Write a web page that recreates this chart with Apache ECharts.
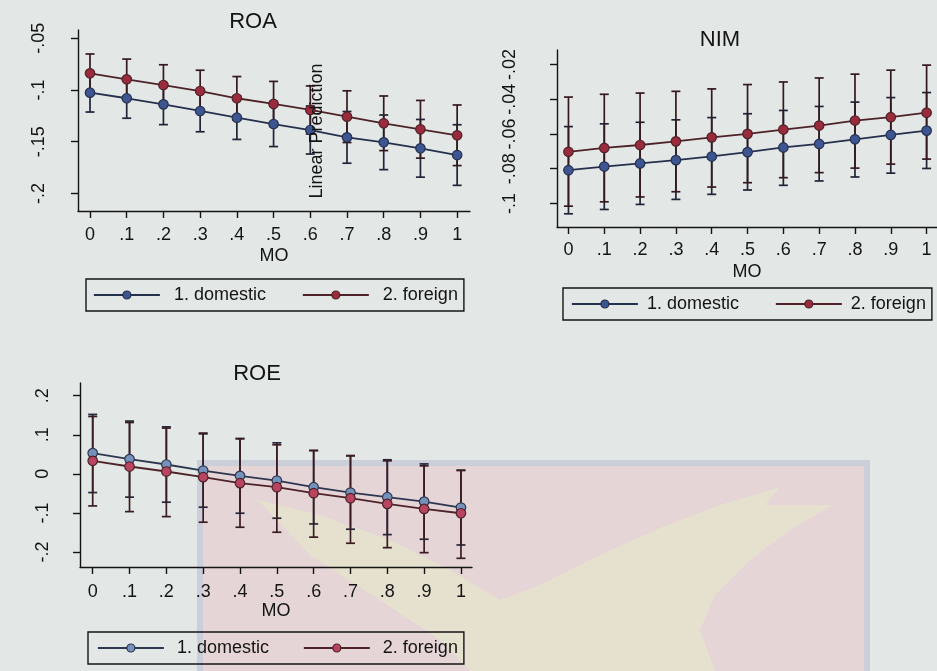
<!DOCTYPE html>
<html>
<head>
<meta charset="utf-8">
<title>Predictive margins by ownership</title>
<script src="https://cdn.jsdelivr.net/npm/echarts@6/dist/echarts.min.js"></script>
<style>
  html, body { margin: 0; padding: 0; background: #e3e7e6; }
  #chart { width: 937px; height: 671px; }
</style>
</head>
<body>
<div id="chart"></div>
<script>
// ---- data ---------------------------------------------------------------
const mo = [0, 0.1, 0.2, 0.3, 0.4, 0.5, 0.6, 0.7, 0.8, 0.9, 1];
const xTicks = [0, 0.1, 0.2, 0.3, 0.4, 0.5, 0.6, 0.7, 0.8, 0.9, 1];
const groupNames = ['1. domestic', '2. foreign'];
const panelTitles = ['ROA', 'NIM', 'ROE'];
const xAxisTitle = 'MO';
const yAxisTitle = 'Linear Prediction';

// ROA
const roaYTicks = [-0.2, -0.15, -0.1, -0.05];
const roaDom   = [-0.1026, -0.108, -0.1139, -0.1203, -0.1268, -0.1329, -0.1387, -0.1458, -0.1506, -0.1564, -0.1629];
const roaDomLo = [-0.1213, -0.1273, -0.1335, -0.1404, -0.1478, -0.1547, -0.1619, -0.1708, -0.177, -0.1843, -0.1922];
const roaDomHi = [-0.0839, -0.0887, -0.0943, -0.1002, -0.1058, -0.1111, -0.1155, -0.1208, -0.1242, -0.1285, -0.1336];
const roaFor   = [-0.0839, -0.0897, -0.0952, -0.101, -0.108, -0.1135, -0.1193, -0.1258, -0.1322, -0.138, -0.1438];
const roaForLo = [-0.1026, -0.1093, -0.1148, -0.1211, -0.129, -0.1353, -0.1425, -0.1508, -0.1586, -0.1659, -0.1731];
const roaForHi = [-0.0652, -0.0701, -0.0756, -0.0809, -0.087, -0.0917, -0.0961, -0.1008, -0.1058, -0.1101, -0.1145];

// NIM
const nimYTicks = [-0.1, -0.08, -0.06, -0.04, -0.02];
const nimDom   = [-0.0809, -0.0788, -0.077, -0.0751, -0.073, -0.0705, -0.0678, -0.0658, -0.0631, -0.0606, -0.0581];
const nimDomLo = [-0.106, -0.1035, -0.1006, -0.0977, -0.0948, -0.0923, -0.0896, -0.0871, -0.0848, -0.0826, -0.0799];
const nimDomHi = [-0.0558, -0.0542, -0.0533, -0.0519, -0.0506, -0.0484, -0.0465, -0.0442, -0.0417, -0.0391, -0.0362];
const nimFor   = [-0.0703, -0.0681, -0.0664, -0.0643, -0.062, -0.06, -0.0575, -0.0552, -0.0523, -0.0504, -0.0478];
const nimForLo = [-0.1016, -0.0991, -0.0963, -0.0933, -0.0906, -0.0881, -0.0852, -0.0823, -0.0797, -0.0774, -0.0745];
const nimForHi = [-0.0388, -0.0372, -0.0365, -0.0355, -0.0341, -0.0316, -0.0301, -0.0278, -0.0256, -0.0233, -0.0204];

// ROE
const roeYTicks = [-0.2, -0.1, 0, 0.1, 0.2];
const roeDom   = [0.0531, 0.0377, 0.0239, 0.0085, -0.0051, -0.0171, -0.0342, -0.0479, -0.0598, -0.071, -0.0863];
const roeDomLo = [-0.0479, -0.0597, -0.0726, -0.0854, -0.1008, -0.1136, -0.1282, -0.1418, -0.1556, -0.1674, -0.1821];
const roeDomHi = [0.1521, 0.1351, 0.1204, 0.1024, 0.0906, 0.0794, 0.0598, 0.046, 0.036, 0.0254, 0.0095];
const roeFor   = [0.0333, 0.0188, 0.006, -0.0085, -0.0239, -0.0342, -0.0496, -0.0624, -0.0769, -0.0897, -0.1009];
const roeForLo = [-0.0821, -0.0967, -0.1095, -0.1238, -0.1367, -0.1495, -0.1621, -0.1777, -0.189, -0.2018, -0.2162];
const roeForHi = [0.1469, 0.1315, 0.1172, 0.1044, 0.0897, 0.0744, 0.0597, 0.0469, 0.0333, 0.0205, 0.0085];

// ---- styling ------------------------------------------------------------
const FONT = "'Liberation Sans', Arial, Helvetica, sans-serif";
const INK = '#141414';

// Stata-like number format: drop the leading zero (-.05, .1, 0, 1)
function stataNum(v) {
  const s = String(+Number(v).toFixed(4));
  return s.replace(/^(-?)0\./, '$1.');
}

// panel layout and colours
const panels = [
  {
    title: panelTitles[0], titleX: 248, titleY: 6,
    grid: { left: 78, top: 30, width: 392, height: 181 },
    xMin: -0.0327, xMax: 1.035, yMin: -0.217, yMax: -0.042,
    yTicks: roaYTicks, yLabelMargin: 30, xLabelMargin: 15, nameGap: 36,
    series: [[roaDom, roaDomLo, roaDomHi], [roaFor, roaForLo, roaForHi]],
    marker: ['#3d5590', '#9a2b3d'],
    line: ['#25304d', '#4e2229'],
    ci: ['#1f2436', '#35191e'],
    legend: { left: 86, top: 279, gap: 36, padL: 7, padR: 6, textPad: 9 }
  },
  {
    title: panelTitles[1], titleX: 715, titleY: 24,
    grid: { left: 557, top: 50, width: 380, height: 177 },
    xMin: -0.032, xMax: 1.029, yMin: -0.1136, yMax: -0.0117,
    yTicks: nimYTicks, yLabelMargin: 38, xLabelMargin: 14, nameGap: 36,
    series: [[nimDom, nimDomLo, nimDomHi], [nimFor, nimForLo, nimForHi]],
    marker: ['#3d5590', '#9a2b3d'],
    line: ['#25304d', '#4e2229'],
    ci: ['#1f2436', '#35191e'],
    legend: { left: 563, top: 288, gap: 36, padL: 8, padR: 6, textPad: 4 }
  },
  {
    title: panelTitles[2], titleX: 252, titleY: 358,
    grid: { left: 80, top: 383, width: 392, height: 184 },
    xMin: -0.0345, xMax: 1.03, yMin: -0.2385, yMax: 0.2326,
    yTicks: roeYTicks, yLabelMargin: 28, xLabelMargin: 16, nameGap: 35,
    series: [[roeDom, roeDomLo, roeDomHi], [roeFor, roeForLo, roeForHi]],
    marker: ['#7592ba', '#b84560'],
    line: ['#2e3650', '#4e2229'],
    ci: ['#25283a', '#3a1c22'],
    legend: { left: 88, top: 632, gap: 34, padL: 9, padR: 6, textPad: 8 }
  }
];

// ---- option building ----------------------------------------------------
const grids = [], xAxes = [], yAxes = [], series = [], legends = [], titles = [];

function errorBars(gi, lo, hi, color) {
  return {
    type: 'custom',
    xAxisIndex: gi, yAxisIndex: gi,
    z: 2,
    silent: true,
    encode: { x: 0, y: [1, 2] },
    data: mo.map((x, i) => [x, lo[i], hi[i]]),
    renderItem: function (params, api) {
      const x = api.value(0);
      const pLo = api.coord([x, api.value(1)]);
      const pHi = api.coord([x, api.value(2)]);
      const cap = 4.5;
      const st = { stroke: color, lineWidth: 1.7 };
      return {
        type: 'group',
        children: [
          { type: 'line', shape: { x1: pLo[0], y1: pLo[1], x2: pHi[0], y2: pHi[1] }, style: st },
          { type: 'line', shape: { x1: pLo[0] - cap, y1: pLo[1], x2: pLo[0] + cap, y2: pLo[1] }, style: st },
          { type: 'line', shape: { x1: pHi[0] - cap, y1: pHi[1], x2: pHi[0] + cap, y2: pHi[1] }, style: st }
        ]
      };
    }
  };
}

panels.forEach((p, gi) => {
  grids.push(Object.assign({ containLabel: false }, p.grid));

  xAxes.push({
    type: 'value', gridIndex: gi, min: p.xMin, max: p.xMax,
    name: xAxisTitle, nameLocation: 'middle', nameGap: p.nameGap,
    nameTextStyle: { fontFamily: FONT, fontSize: 18, color: INK },
    axisLine: { show: true, onZero: false, lineStyle: { color: INK, width: 1.4 } },
    axisTick: { show: true, length: 7, lineStyle: { color: INK, width: 1.4 }, customValues: xTicks },
    axisLabel: { customValues: xTicks, margin: p.xLabelMargin, formatter: stataNum,
                 fontFamily: FONT, fontSize: 18, color: INK },
    splitLine: { show: false }
  });

  yAxes.push({
    type: 'value', gridIndex: gi, min: p.yMin, max: p.yMax,
    axisLine: { show: true, onZero: false, lineStyle: { color: INK, width: 1.4 } },
    axisTick: { show: true, length: 7, lineStyle: { color: INK, width: 1.4 }, customValues: p.yTicks },
    axisLabel: { customValues: p.yTicks, rotate: 90, margin: p.yLabelMargin, formatter: stataNum,
                 fontFamily: FONT, fontSize: 18, color: INK },
    splitLine: { show: false }
  });

  titles.push({
    text: p.title, left: p.titleX, top: p.titleY, textAlign: 'center',
    textStyle: { fontFamily: FONT, fontSize: 22, fontWeight: 'normal', color: INK }
  });

  // confidence intervals first, then the connected point estimates
  p.series.forEach((s, k) => {
    series.push(errorBars(gi, s[1], s[2], p.ci[k]));
  });
  p.series.forEach((s, k) => {
    series.push({
      type: 'line', name: groupNames[k],
      xAxisIndex: gi, yAxisIndex: gi, z: 3,
      data: mo.map((x, i) => [x, s[0][i]]),
      symbol: 'circle', symbolSize: 9.5, showSymbol: true,
      lineStyle: { color: p.line[k], width: 1.8 },
      itemStyle: { color: p.marker[k], borderColor: p.line[k], borderWidth: 1.2 },
      emphasis: { disabled: true },
      animation: false
    });
  });

  legends.push({
    left: p.legend.left, top: p.legend.top,
    width: 600,
    orient: 'horizontal',
    itemWidth: 66, itemHeight: 10, itemGap: p.legend.gap,
    padding: [7, p.legend.padR, 7, p.legend.padL],
    borderColor: INK, borderWidth: 1.4,
    selectedMode: false,
    textStyle: { fontFamily: FONT, fontSize: 18, color: INK, padding: [0, 0, 0, p.legend.textPad] },
    data: groupNames.map((n, k) => ({
      name: n,
      itemStyle: { color: p.marker[k], borderColor: p.line[k], borderWidth: 1.2 },
      lineStyle: { color: p.line[k], width: 1.8 }
    }))
  });
});

// backdrop emblem in the lower part of the page and the shared y title
const graphic = [
  { type: 'rect', z: -100, silent: true,
    shape: { x: 200, y: 463, width: 667, height: 215 },
    style: { fill: '#e6d5d7', stroke: '#cbcfda', lineWidth: 6 } },
  { type: 'polygon', z: -99, silent: true,
    shape: { points: [[258, 500], [320, 515], [390, 540], [450, 570], [500, 600], [540, 585],
                      [600, 555], [660, 528], [720, 505], [780, 487], [765, 505], [832, 505],
                      [790, 530], [750, 560], [715, 595], [700, 630], [715, 671], [470, 671],
                      [440, 640], [380, 600], [310, 555]] },
    style: { fill: '#e5e5ca', opacity: 0.7 } },
  { type: 'text', z: 100, silent: true,
    x: 317, y: 131, rotation: Math.PI / 2,
    style: { text: yAxisTitle, fontFamily: FONT, fontSize: 18, fill: INK,
             align: 'center', verticalAlign: 'middle' } }
];

const chart = echarts.init(document.getElementById('chart'), null, { renderer: 'canvas' });
chart.setOption({
  backgroundColor: '#e3e7e6',
  animation: false,
  title: titles,
  grid: grids,
  xAxis: xAxes,
  yAxis: yAxes,
  legend: legends,
  series: series,
  graphic: graphic
});
</script>
</body>
</html>
